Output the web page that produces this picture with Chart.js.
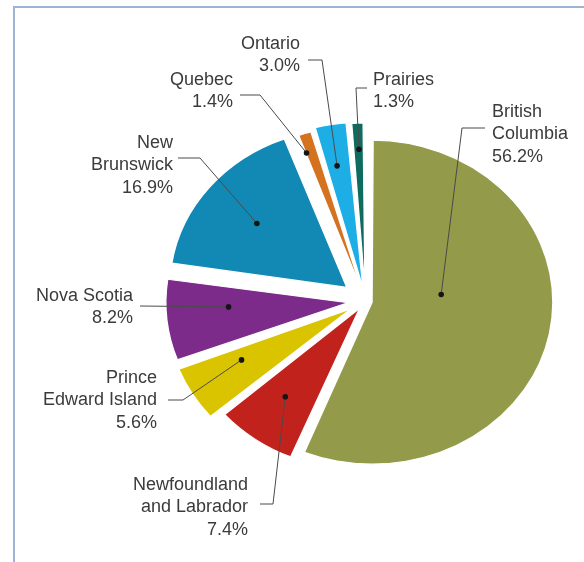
<!DOCTYPE html>
<html>
<head>
<meta charset="utf-8">
<title>Share by region</title>
<script src="https://cdn.jsdelivr.net/npm/chart.js@4.4.1/dist/chart.umd.min.js"></script>
<style>
  html, body { margin: 0; padding: 0; background: #fff; }
  #wrap { position: relative; width: 584px; height: 562px; overflow: hidden; }
  #frame {
    position: absolute; left: 13px; top: 6px; right: -5px; bottom: -5px;
    border-left: 2px solid #9fb4d4; border-top: 2px solid #9fb4d4;
  }
  canvas { position: absolute; left: 0; top: 0; }
</style>
</head>
<body>
<div id="wrap">
  <div id="frame"></div>
  <canvas id="piechart" width="584" height="562"></canvas>
</div>
<script>
// slices, clockwise from 12 o'clock
const regions = ["British Columbia", "Newfoundland and Labrador", "Prince Edward Island",
                 "Nova Scotia", "New Brunswick", "Quebec", "Ontario", "Prairies"];
const shares = [56.2, 7.4, 5.6, 8.2, 16.9, 1.4, 3.0, 1.3];
const nameLines = [["British", "Columbia"], ["Newfoundland", "and Labrador"], ["Prince", "Edward Island"],
                   ["Nova Scotia"], ["New", "Brunswick"], ["Quebec"], ["Ontario"], ["Prairies"]];

const sliceColors = ["#939b4a", "#c1231c", "#dac400", "#7c2b8b", "#1189b4", "#d5721f", "#1eaee6", "#0f6b5f"];
// how far each slice is pulled out (chart.js offset units)
const pullOut = [24, 36, 60, 61, 86, 42, 51, 46];
// callout dot inside each slice: share of the radius, and share of the sweep
const dotDepth = [0.40, 0.71, 0.71, 0.69, 0.66, 0.94, 0.80, 0.90];
const dotSpread = [0.41, 0.55, 0.67, 0.63, 0.49, 0.15, 0.44, 0.53];
// label text block and leader line bends
const labelSpots = [
  { x: 492, y: 112, align: "left",  end: [485, 128], bend: [462, 128] },
  { x: 248, y: 485, align: "right", end: [260, 504], bend: [273, 504] },
  { x: 157, y: 378, align: "right", end: [168, 400], bend: [183, 400] },
  { x: 133, y: 296, align: "right", end: [140, 306], bend: [140, 306] },
  { x: 173, y: 143, align: "right", end: [178, 158], bend: [200, 158] },
  { x: 233, y: 80,  align: "right", end: [240, 95],  bend: [260, 95] },
  { x: 300, y: 44,  align: "right", end: [308, 60],  bend: [322, 60] },
  { x: 373, y: 80,  align: "left",  end: [367, 88],  bend: [356, 88] }
];

const STRETCH = 1.116;   // pie is drawn a little wider than tall
const LINE_H = 22.5;

// widen the pie around its centre
const stretchPie = {
  id: "stretchPie",
  beforeDatasetsDraw(chart) {
    const arc = chart.getDatasetMeta(0).data[0];
    const ctx = chart.ctx;
    ctx.save();
    ctx.translate(arc.x, arc.y);
    ctx.scale(STRETCH, 1);
    ctx.translate(-arc.x, -arc.y);
  },
  afterDatasetsDraw(chart) {
    chart.ctx.restore();
  }
};

// names, percentages, leader lines and dots
const calloutLabels = {
  id: "calloutLabels",
  afterDraw(chart) {
    const ctx = chart.ctx;
    const arcs = chart.getDatasetMeta(0).data;
    ctx.save();
    arcs.forEach((arc, i) => {
      const mid = (arc.startAngle + arc.endAngle) / 2;
      const shift = pullOut[i] / 4;          // chart.js moves an arc by a quarter of its offset
      const ang = arc.startAngle + dotSpread[i] * (arc.endAngle - arc.startAngle);
      const r = dotDepth[i] * arc.outerRadius;
      const dotX = arc.x + (Math.cos(mid) * shift + Math.cos(ang) * r) * STRETCH;
      const dotY = arc.y + Math.sin(mid) * shift + Math.sin(ang) * r;
      const spot = labelSpots[i];

      ctx.strokeStyle = "#4a4a4a";
      ctx.lineWidth = 1;
      ctx.beginPath();
      ctx.moveTo(spot.end[0], spot.end[1]);
      ctx.lineTo(spot.bend[0], spot.bend[1]);
      ctx.lineTo(dotX, dotY);
      ctx.stroke();

      ctx.fillStyle = "#151515";
      ctx.beginPath();
      ctx.arc(dotX, dotY, 2.8, 0, Math.PI * 2);
      ctx.fill();

      const lines = nameLines[i].concat([chart.data.datasets[0].data[i].toFixed(1) + "%"]);
      ctx.font = '18px "Liberation Sans", Arial, sans-serif';
      ctx.fillStyle = "#3b3b3b";
      ctx.textAlign = spot.align;
      ctx.textBaseline = "middle";
      lines.forEach((ln, k) => ctx.fillText(ln, spot.x, spot.y + k * LINE_H));
    });
    ctx.restore();
  }
};

const ctx = document.getElementById("piechart");
new Chart(ctx, {
  type: "pie",
  data: {
    labels: regions,
    datasets: [{
      data: shares,
      backgroundColor: sliceColors,
      borderColor: "#ffffff",
      borderWidth: 1.2,
      borderJoinStyle: "round",
      offset: pullOut,
      clip: false
    }]
  },
  options: {
    responsive: false,
    animation: false,
    events: [],
    radius: 156,
    layout: { padding: { left: 147, top: 40, right: 0, bottom: 0 } },
    plugins: {
      legend: { display: false },
      tooltip: { enabled: false }
    }
  },
  plugins: [stretchPie, calloutLabels]
});
</script>
</body>
</html>
